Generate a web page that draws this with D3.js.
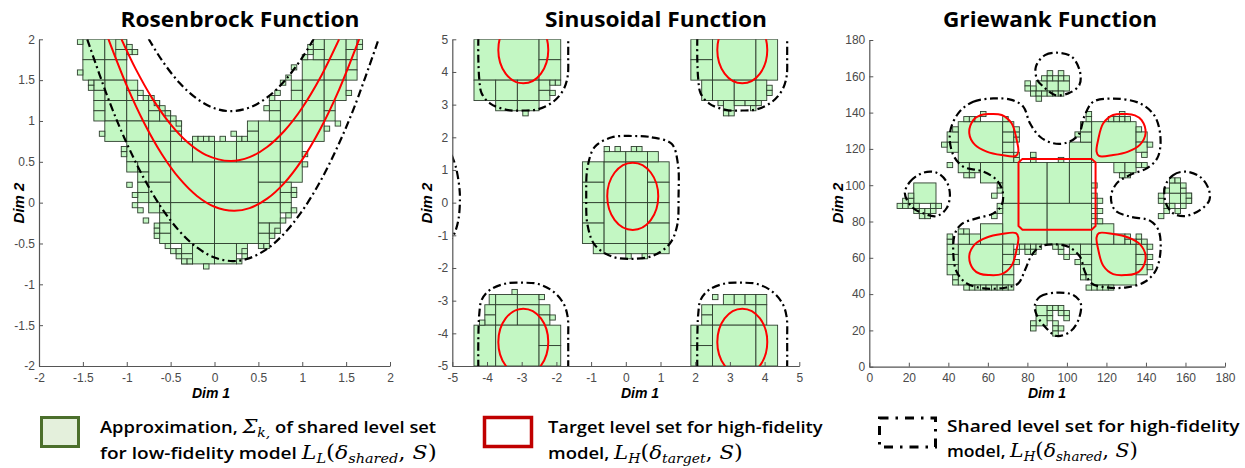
<!DOCTYPE html>
<html><head><meta charset="utf-8">
<script src="https://cdn.jsdelivr.net/npm/d3@7/dist/d3.min.js"></script>
<style>
html,body{margin:0;padding:0;background:#fff;}
svg{display:block}
</style></head><body>
<svg id="chart" width="1245" height="468"></svg>
<script>
// ================= DATA =================
const titles = ["Rosenbrock Function", "Sinusoidal Function", "Griewank Function"];
const rosenTicks = [-2, -1.5, -1, -0.5, 0, 0.5, 1, 1.5, 2];
const sinTicks = [-5, -4, -3, -2, -1, 0, 1, 2, 3, 4, 5];
const grieTicks = [0, 20, 40, 60, 80, 100, 120, 140, 160, 180];

// ---- Rosenbrock: approximation cells ----
const rosenCellsBig = [[-0.5,0,0,0.5],[0,0,0.5,0.5],[-0.5,-0.5,0,0],[0,-0.5,0.5,0]];
const rosenCells25 = [
 [-1.5,1.75],[-1.25,1.75],[1.25,1.75],
 [-1.5,1.5],[-1.25,1.5],[1.0,1.5],[1.25,1.5],
 [-1.25,1.25],[1.0,1.25],[1.25,1.25],
 [-1.25,1.0],[-1.0,1.0],[0.75,1.0],[1.0,1.0],
 [-1.25,0.75],[-1.0,0.75],[-0.75,0.75],[0.5,0.75],[0.75,0.75],[1.0,0.75],
 [-1.0,0.5],[-0.75,0.5],[-0.5,0.5],[-0.25,0.5],[0,0.5],[0.25,0.5],[0.5,0.5],[0.75,0.5],
 [-0.75,0.25],[0.5,0.25],[0.75,0.25],
 [-0.75,0],[0.5,0],
 [0.5,-0.25],
 [-0.25,-0.75],[0,-0.75]
];
const rosenCells125 = [
 [-1.125,1.875],[-1.125,1.75],
 [1.125,1.875],[1.125,1.75],[1.5,1.875],[1.5,1.75],[1.5,1.625],[1.5,1.5],
 [-1.375,1.375],[-1.375,1.25],[-1.0,1.375],[-1.0,1.25],
 [0.875,1.375],[0.875,1.25],
 [-1.375,1.125],[-1.375,1.0],[-0.75,1.125],[-0.75,1.0],[-0.625,1.0],
 [0.625,1.125],[0.625,1.0],[1.25,1.125],[1.25,1.0],
 [-0.5,0.875],[-0.5,0.75],[0.375,0.875],[0.375,0.75],
 [-1.0,0.375],[-0.875,0.375],[-0.875,0.25],
 [-0.875,0.125],[-0.875,0],[0.75,0.125],[0.75,0],
 [-0.75,-0.125],[-0.625,-0.125],[-0.625,-0.25],[0.75,-0.125],
 [-0.625,-0.375],[-0.625,-0.5],[0.5,-0.375],[0.5,-0.5],[0.625,-0.375],
 [-0.375,-0.625],[-0.375,-0.75],[0.25,-0.625]
];
const rosenCells0625 = [
 [-1.5625,1.9375],[-1.5625,1.5625],[-1.4375,1.4375],[-1.4375,1.375],[-1.3125,0.8125],
 [-1.0,1.875],[-1.0,1.8125],[-0.9375,1.8125],
 [-0.875,1.3125],[-0.8125,1.25],[-0.75,1.25],[-0.6875,1.1875],[-0.625,1.125],[-0.5625,1.0625],[-0.5,1.0],[-0.4375,0.9375],
 [-0.25,0.75],[-0.1875,0.75],[-0.125,0.75],[-0.0625,0.75],[0.0625,0.75],[0.1875,0.8125],[0.25,0.75],[0.3125,0.75],
 [0.5625,1.125],[0.625,1.25],[0.6875,1.3125],[0.75,1.4375],[0.8125,1.5],[0.875,1.625],[1.0,1.75],[1.0625,1.8125],[1.0625,1.875],
 [1.625,1.9375],[1.625,1.875],[1.5,1.3125],[1.375,0.9375],[1.25,0.875],
 [1.0,0.5625],[1.0,0.4375],[0.875,0.125],[0.875,0.0625],[0.875,-0.125],[0.8125,-0.1875],[0.75,-0.25],[0.6875,-0.375],[0.625,-0.4375],[0.5,-0.5625],[0.5625,-0.5625],
 [-1.0625,0.5625],[-1.0625,0.625],[-1.0,0.1875],[-0.9375,0.0625],[-0.9375,-0.0625],[-0.875,-0.125],[-0.8125,-0.25],[-0.6875,-0.3125],[-0.6875,-0.375],[-0.6875,-0.4375],[-0.5625,-0.5625],[-0.5,-0.625],[-0.4375,-0.6875],[-0.4375,-0.625],[-0.375,-0.75],
 [-0.125,-0.8125],[0.25,-0.75],[0.3125,-0.6875],[0.3125,-0.625],[-0.3125,-0.75]
];
// ---- Rosenbrock: level-set curves ----
const rosenRedUpper = [[-1.06,2.0],[-0.9,1.641],[-0.7,1.261],[-0.5,0.958],[-0.3,0.733],[-0.1,0.586],[0.18,0.51],[0.4,0.557],[0.6,0.681],[0.8,0.883],[1.0,1.162],[1.2,1.519],[1.42,2.0]];
const rosenRedLower = [[-1.21,2.006],[-1.0,1.433],[-0.8,0.972],[-0.6,0.593],[-0.4,0.296],[-0.2,0.082],[0,-0.05],[0.22,-0.1],[0.4,-0.067],[0.6,0.049],[0.8,0.246],[1.0,0.527],[1.2,0.889],[1.4,1.334],[1.65,2.006]];
const rosenBlackUpper = [[-0.75,2.004],[-0.6,1.744],[-0.4,1.468],[-0.2,1.272],[0,1.156],[0.19,1.12],[0.4,1.164],[0.6,1.288],[0.8,1.492],[1.0,1.776],[1.13,2.004]];
const rosenBlackLower = [[-1.45,2.0],[-1.2,1.243],[-1.0,0.727],[-0.8,0.29],[-0.6,-0.069],[-0.4,-0.348],[-0.2,-0.549],[0,-0.672],[0.21,-0.715],[0.4,-0.679],[0.6,-0.565],[0.8,-0.372],[1.0,-0.1],[1.2,0.25],[1.4,0.68],[1.6,1.188],[1.87,2.0]];

// ---- Sinusoidal: approximation cells [x0,y0,x1,y1] ----
const sinCells = [
 [-4.375,3.75,-2.5,5],[-2.5,4.375,-1.875,5],[-2.5,3.75,-1.875,4.375],
 [-4.375,3.125,-3.75,3.75],[-3.75,3.125,-3.125,3.75],[-3.125,3.125,-2.5,3.75],
 [-2.5,3.4375,-2.1875,3.75],[-2.5,3.125,-2.1875,3.4375],
 [-3.75,2.8125,-3.125,3.125],[-3.125,2.8125,-2.5,3.125],
 [1.875,4.375,2.5,5],[1.875,3.75,2.5,4.375],[2.5,3.75,3.75,5],[3.75,3.75,4.375,5],
 [2.1875,3.125,2.5,3.75],[2.5,3.125,3.125,3.75],[3.125,3.125,3.75,3.75],[3.75,3.125,4.0625,3.75],
 [2.8125,2.8125,3.125,3.125],[3.125,2.96875,3.4375,3.125],[3.4375,2.96875,3.75,3.125],[3.75,2.96875,3.90625,3.125],
 [-1.25,0.625,-0.625,1.25],[-1.25,0,-0.625,0.625],[-1.25,-0.625,-0.625,0],[-1.25,-1.25,-0.625,-0.625],
 [-0.625,0,0,1.25],[0,0,0.625,1.25],[-0.625,-1.25,0,0],[0,-1.25,0.625,0],
 [0.625,0.625,1.25,1.25],[0.625,0,1.25,0.625],[0.625,-0.625,1.25,0],[0.625,-1.25,1.25,-0.625],
 [-0.625,1.25,0,1.5625],[0,1.25,0.625,1.5625],[0.625,1.25,0.9375,1.5625],
 [-0.9375,-1.5625,-0.625,-1.25],[-0.625,-1.5625,0,-1.25],[0,-1.5625,0.625,-1.25],[0.625,-1.5625,1.25,-1.25],
 [-3.9375,-3.125,-3.75,-2.8125],[-3.75,-3.125,-3.125,-2.8125],[-3.125,-3.125,-2.5,-2.8125],
 [-4.0625,-3.4375,-3.75,-3.125],[-4.0625,-3.75,-3.75,-3.4375],[-3.75,-3.75,-3.125,-3.125],[-3.125,-3.75,-2.5,-3.125],
 [-2.5,-3.4375,-2.1875,-3.125],[-2.5,-3.75,-2.1875,-3.4375],
 [-4.375,-5,-3.75,-3.75],[-3.75,-5,-2.5,-3.75],[-2.5,-4.375,-1.875,-3.75],[-2.5,-5,-1.875,-4.375],
 [2.8125,-3.125,3.125,-2.8125],[3.125,-3.125,3.4375,-2.8125],[3.4375,-3.125,3.75,-2.8125],[3.75,-3.125,4.0625,-2.8125],
 [2.1875,-3.4375,2.5,-3.125],[2.1875,-3.75,2.5,-3.4375],[2.5,-3.75,3.75,-3.125],[3.75,-3.75,4.0625,-3.125],
 [1.875,-4.375,2.5,-3.75],[1.875,-5,2.5,-4.375],[2.5,-5,3.75,-3.75],[3.75,-5,4.375,-3.75]
];
const sinCellsSmall = [
 [-2.1875,3.59375],[-2.03125,3.59375],[-2.1875,3.28125],[-2.96875,2.65625],
 [2.65625,2.96875],[2.8125,2.65625],[2.96875,2.65625],[3.59375,2.8125],[4.0625,3.4375],[4.0625,3.28125],
 [-0.625,1.5625],[-0.3125,1.5625],[0.15625,1.5625],[0.3125,1.5625],
 [0,-1.71875],[0.46875,-1.71875],
 [-3.28125,-2.8125],[-2.5,-2.96875],[-2.1875,-3.59375],[-4.21875,-3.75],
 [2.5,-2.96875]
];
// ---- Sinusoidal: level sets ----
const sinRedEllipses = [[-2.954,4.673,0.72,1.02],[3.357,4.673,0.72,1.02],[0.2,0.194,0.735,1.03],[-2.954,-4.265,0.72,1.02],[3.357,-4.265,0.72,1.02]];
const sinBlackCentre = [[0.19,2.04],[0.75,2.0],[1.32,1.8],[1.5,1.2],[1.52,0.2],[1.48,-0.7],[1.27,-1.25],[0.8,-1.62],[0.19,-1.72],[-0.4,-1.65],[-0.89,-1.3],[-1.1,-0.7],[-1.14,0.2],[-1.1,1.1],[-0.89,1.71],[-0.4,2.0]];
const sinBlackTL = [[-4.25,5.05],[-4.25,4.4],[-4.22,3.75],[-4.155,3.35],[-3.915,3.04],[-3.434,2.84],[-2.95,2.82],[-2.52,2.86],[-2.09,3.09],[-1.8,3.45],[-1.676,3.86],[-1.66,4.5],[-1.66,5.05]];
const sinBlackTR = [[2.06,5.05],[2.06,4.4],[2.09,3.75],[2.155,3.35],[2.395,3.04],[2.876,2.84],[3.36,2.82],[3.79,2.86],[4.22,3.09],[4.51,3.45],[4.634,3.86],[4.65,4.5],[4.65,5.05]];
const sinBlackBL = [[-4.25,-5.05],[-4.25,-4.2],[-4.22,-3.38],[-4.155,-2.98],[-3.915,-2.67],[-3.434,-2.47],[-2.95,-2.45],[-2.52,-2.49],[-2.09,-2.72],[-1.8,-3.08],[-1.676,-3.49],[-1.66,-4.2],[-1.66,-5.05]];
const sinBlackBR = [[2.06,-5.05],[2.06,-4.2],[2.09,-3.38],[2.155,-2.98],[2.395,-2.67],[2.876,-2.47],[3.36,-2.45],[3.79,-2.49],[4.22,-2.72],[4.51,-3.08],[4.634,-3.49],[4.65,-4.2],[4.65,-5.05]];
const sinBlackEdge = [[-5.02,1.46],[-4.9,1.1],[-4.8,0.5],[-4.78,0.1],[-4.82,-0.5],[-4.92,-0.9],[-5.02,-1.1]];

// ---- Griewank: approximation cells ----
const grieCellsBig = [
 [67.5,90,90,112.5],[90,90,101.25,112.5],[101.25,90,112.5,112.5],[101.25,112.5,112.5,123.75],
 [67.5,67.5,90,90],[90,67.5,112.5,90],
 [45,112.5,67.5,135],[112.5,112.5,135,135],[45,45,67.5,67.5],[112.5,45,135,67.5],
 [56.25,101.25,67.5,112.5],[56.25,67.5,67.5,78.75],[112.5,67.5,123.75,78.75],
 [22.5,90,33.75,101.25]
];
const grieCellsMid = [
 [67.5,112.5],[67.5,118.125],[67.5,123.75],[67.5,129.375],[39.375,118.125],[39.375,123.75],[45,106.875],[50.625,106.875],
 [106.875,123.75],[106.875,129.375],[123.75,106.875],[129.375,106.875],[135,123.75],[135,118.125],
 [39.375,61.875],[39.375,56.25],[39.375,50.625],[50.625,67.5],[45,67.5],[67.5,61.875],[67.5,56.25],[67.5,50.625],[67.5,45],
 [135,61.875],[135,56.25],[135,50.625],[123.75,67.5],[106.875,50.625],
 [101.25,61.875],[106.875,61.875],[106.875,56.25],
 [84.375,151.875],[90,151.875],[95.625,151.875],
 [151.875,90],[151.875,95.625],[157.5,90],
 [84.375,28.125],[84.375,22.5]
];
const grieCellsSmall = [
 [39.375,109.6875],[42.1875,129.375],[36.5625,120.9375],[47.8125,135],[50.625,135],[53.4375,135],[56.25,137.8125],[67.5,135],
 [47.8125,104.0625],[50.625,104.0625],[73.125,123.75],[73.125,126.5625],[73.125,129.375],[73.125,112.5],[73.125,115.3125],
 [81.5625,112.5],[81.5625,115.3125],[95.625,112.5],
 [64.6875,98.4375],[64.6875,95.625],[61.875,92.8125],[64.6875,87.1875],[64.6875,84.375],[61.875,81.5625],
 [112.5,98.4375],[112.5,92.8125],[115.3125,90],[112.5,87.1875],[115.3125,84.375],[112.5,81.5625],[115.3125,78.75],
 [109.6875,135],[109.6875,137.8125],[104.0625,126.5625],[120.9375,135],[123.75,135],[126.5625,135],[129.375,135],[126.5625,137.8125],
 [137.8125,115.3125],[135,109.6875],[137.8125,109.6875],[126.5625,104.0625],[129.375,104.0625],[140.625,120.9375],[135,129.375],
 [39.375,67.5],[39.375,70.3125],[42.1875,47.8125],[42.1875,45],[47.8125,42.1875],[50.625,42.1875],[53.4375,42.1875],[56.25,42.1875],
 [59.0625,42.1875],[61.875,42.1875],[64.6875,42.1875],[67.5,42.1875],[70.3125,42.1875],[73.125,61.875],[75.9375,64.6875],[73.125,56.25],
 [45,73.125],[47.8125,73.125],
 [78.75,64.6875],[81.5625,64.6875],[84.375,64.6875],[81.5625,61.875],[78.75,61.875],[92.8125,64.6875],[95.625,61.875],[95.625,64.6875],[98.4375,59.0625],
 [140.625,64.6875],[140.625,59.0625],[140.625,53.4375],[135,67.5],[135,70.3125],[137.8125,67.5],[129.375,67.5],[129.375,70.3125],[132.1875,67.5],
 [109.6875,42.1875],[112.5,42.1875],[115.3125,42.1875],[118.125,42.1875],[120.9375,42.1875],[106.875,47.8125],[109.6875,47.8125],[104.0625,56.25],
 [14.0625,87.1875],[16.875,87.1875],[19.6875,87.1875],[19.6875,90],[16.875,90],[19.6875,92.8125],[22.5,87.1875],[22.5,84.375],
 [25.3125,84.375],[25.3125,81.5625],[28.125,81.5625],[28.125,84.375],[30.9375,84.375],[30.9375,87.1875],[33.75,87.1875],
 [78.75,154.6875],[78.75,151.875],[81.5625,151.875],[81.5625,149.0625],[84.375,149.0625],[84.375,146.25],[87.1875,149.0625],[90,149.0625],
 [92.8125,149.0625],[95.625,149.0625],[87.1875,157.5],[90,157.5],[90,160.3125],[95.625,157.5],[95.625,160.3125],[98.4375,157.5],[92.8125,157.5],
 [146.25,90],[146.25,92.8125],[149.0625,95.625],[149.0625,87.1875],[149.0625,84.375],[151.875,87.1875],[154.6875,84.375],[157.5,87.1875],
 [157.5,95.625],[157.5,98.4375],[160.3125,92.8125],[160.3125,90],[146.25,81.5625],[151.875,101.25],[154.6875,101.25],
 [81.5625,22.5],[81.5625,19.6875],[90,30.9375],[92.8125,30.9375],[95.625,30.9375],[98.4375,28.125],[90,28.125],[95.625,28.125],
 [90,25.3125],[92.8125,22.5],[92.8125,19.6875],[95.625,19.6875],[92.8125,16.875],[98.4375,25.3125]
];
// ---- Griewank: level sets ----
const grieRedCentre = [[77.5,114.5],[112.5,114.5],[114.5,112.5],[114.5,77.5],[112.5,75.5],[77.5,75.5],[75.5,77.5],[75.5,112.5]];
const grieRedTL = [[50.6,128.6],[52.6,135.9],[56,138.5],[60.2,139.2],[67.0,138.7],[72.0,134.1],[74.6,124.9],[75.4,118.5],[74.2,116.1],[67.0,116.6],[59.4,118.5],[53.5,122.2]];
const grieRedTR = [[139.8,128.6],[137.8,135.9],[134.4,138.5],[130.2,139.2],[123.4,138.7],[118.4,134.1],[115.8,124.9],[115.0,118.5],[116.2,116.1],[123.4,116.6],[131.0,118.5],[136.9,122.2]];
const grieRedBL = [[50.6,61.1],[52.6,53.8],[56,51.2],[60.2,50.5],[67.0,51.0],[72.0,55.6],[74.6,64.8],[75.4,71.2],[74.2,73.6],[67.0,73.1],[59.4,71.2],[53.5,67.5]];
const grieRedBR = [[139.8,61.1],[137.8,53.8],[134.4,51.2],[130.2,50.5],[123.4,51.0],[118.4,55.6],[115.8,64.8],[115.0,71.2],[116.2,73.6],[123.4,73.1],[131.0,71.2],[136.9,67.5]];
const grieBlackMain = [[45.0,139.6],[52.6,146.0],[62.8,147.8],[72.0,147.0],[77.9,143.3],[81.3,134.1],[86.4,126.7],[93.1,123.1],[99.9,123.4],[105.8,127.7],[109.1,138.7],[113.4,146.0],[123.5,147.7],[137.0,145.1],[144.6,137.8],[147.4,124.9],[145.7,114.8],[140.4,109.3],[131.9,105.6],[125.2,101.0],[122.3,93.7],[124.3,86.3],[131.9,82.7],[142.0,80.5],[146.3,75.3],[147.4,64.3],[145.1,53.3],[139.5,46.8],[130.2,43.7],[120.1,43.7],[112.5,45.9],[109.1,52.3],[106.6,60.6],[100.7,66.1],[93.1,67.4],[86.4,66.1],[82.2,61.5],[78.8,53.3],[75.4,45.9],[68.7,43.5],[57.7,43.2],[49.3,45.9],[44.2,52.3],[42.5,62.5],[43.4,73.5],[46.7,78.6],[54.3,81.7],[62.8,84.5],[67.0,89.1],[67.5,96.4],[64.4,102.9],[57.7,107.5],[47.6,110.2],[42.5,116.6],[40.8,128.6]];
const grieBlackTop = [[84.3,165.3],[88.9,171.7],[94.8,173.0],[102.4,170.8],[106.6,162.6],[106.3,155.2],[100.7,150.6],[94.0,149.7],[88.1,154.3],[85.0,158.0]];
const grieBlackLeft = [[18.0,95.5],[20.6,101.9],[27.3,106.9],[34.1,106.9],[39.1,101.9],[40.8,94.6],[39.1,87.3],[34.1,83.0],[27.3,84.5],[21.4,88.2]];
const grieBlackRight = [[149.6,99.2],[153.8,105.6],[159.7,107.5],[167.3,104.7],[171.6,98.3],[172.1,91.8],[167.3,86.3],[159.7,83.0],[153.8,84.5],[150.1,90.0]];
const grieBlackBottom = [[83.8,34.0],[86.4,38.6],[94.8,40.8],[103.2,39.5],[107.0,34.9],[105.8,25.7],[101.6,19.3],[94.8,16.9],[89.7,21.1],[84.7,28.5]];

// ---- Legend text ----
const legendLine1 = ["Approximation, ", "Target level set for high-fidelity", "Shared level set for high-fidelity"];

// ================= DRAWING =================
const svg = d3.select("#chart");
const CELL_FILL = "#c3f7c3", CELL_STROKE = "#2e3e2e";
const RED = "#ff0000";
const DASH = "8,3.5,2,3.5";

const layout = [
  {l:39, r:390, t:39.3, b:366, dom:[-2,2], ticks:rosenTicks, tx:240, tw:239, d1:211, d2:19},
  {l:452.3, r:799.3, t:39.3, b:366, dom:[-5,5], ticks:sinTicks, tx:656, tw:222, d1:640, d2:427},
  {l:869.3, r:1225, t:40, b:366.7, dom:[0,180], ticks:grieTicks, tx:1050, tw:214, d1:1047, d2:838}
];

function makePanel(i) {
  const L = layout[i];
  const xs = d3.scaleLinear().domain(L.dom).range([L.l, L.r]);
  const ys = d3.scaleLinear().domain(L.dom).range([L.b, L.t]);
  const clipId = "clip" + i;
  svg.append("clipPath").attr("id", clipId).append("rect")
    .attr("x", L.l).attr("y", L.t).attr("width", L.r - L.l).attr("height", L.b - L.t);
  const g = svg.append("g");
  const plot = g.append("g").attr("clip-path", `url(#${clipId})`);
  return {L, xs, ys, g, plot};
}

function drawCells(P, rects) {
  P.plot.append("g").selectAll("rect").data(rects).join("rect")
    .attr("x", d => P.xs(d[0])).attr("y", d => P.ys(d[3]))
    .attr("width", d => P.xs(d[2]) - P.xs(d[0]))
    .attr("height", d => P.ys(d[1]) - P.ys(d[3]))
    .attr("fill", CELL_FILL).attr("stroke", CELL_STROKE).attr("stroke-width", 0.9);
}
const sq = (arr, s) => arr.map(d => [d[0], d[1], d[0] + s, d[1] + s]);

function drawCurve(P, pts, closed, color, width, dash) {
  const line = d3.line().x(d => P.xs(d[0])).y(d => P.ys(d[1]))
    .curve(closed ? d3.curveCatmullRomClosed.alpha(0.5) : d3.curveCatmullRom.alpha(0.5));
  const p = P.plot.append("path").attr("d", line(pts)).attr("fill", "none")
    .attr("stroke", color).attr("stroke-width", width)
    .attr("stroke-linejoin", "round");
  if (dash) p.attr("stroke-dasharray", dash);
  return p;
}
function drawPoly(P, pts, color, width) {
  const line = d3.line().x(d => P.xs(d[0])).y(d => P.ys(d[1])).curve(d3.curveLinearClosed);
  P.plot.append("path").attr("d", line(pts)).attr("fill", "none")
    .attr("stroke", color).attr("stroke-width", width).attr("stroke-linejoin", "round");
}

function drawAxes(P, i) {
  const L = P.L;
  const fmt = d => String(d);
  const ax = P.g.append("g").attr("transform", `translate(0,${L.b})`)
    .call(d3.axisBottom(P.xs).tickValues(L.ticks).tickFormat(fmt).tickSizeInner(-4).tickSizeOuter(0).tickPadding(7));
  const ay = P.g.append("g").attr("transform", `translate(${L.l},0)`)
    .call(d3.axisLeft(P.ys).tickValues(L.ticks).tickFormat(fmt).tickSizeInner(-4).tickSizeOuter(0).tickPadding(4));
  [ax, ay].forEach(a => {
    a.select(".domain").attr("stroke", "#555").attr("stroke-width", 1.2);
    a.selectAll(".tick line").attr("stroke", "#555");
    a.selectAll(".tick text").attr("fill", "#4a4a4a")
      .style("font-family", "'Liberation Sans', Arial, sans-serif").style("font-size", "12px");
  });
  svg.append("text").attr("x", L.tx).attr("y", 27).attr("text-anchor", "middle")
    .style("font-family", "'Open Sans', Lato, sans-serif").style("font-weight", 700).style("font-size", "21px")
    .attr("textLength", L.tw).attr("lengthAdjust", "spacingAndGlyphs")
    .attr("fill", "#000").text(titles[i]);
  svg.append("text").attr("x", L.d1).attr("y", 398).attr("text-anchor", "middle")
    .style("font-family", "'Liberation Sans', Arial, sans-serif").style("font-weight", 700).style("font-style", "italic").style("font-size", "14px")
    .text("Dim 1");
  svg.append("text").attr("transform", `translate(${L.d2 + 5},203) rotate(-90)`).attr("text-anchor", "middle")
    .style("font-family", "'Liberation Sans', Arial, sans-serif").style("font-weight", 700).style("font-style", "italic").style("font-size", "15px")
    .text("Dim 2");
}

{
  const P = makePanel(0);
  drawCells(P, rosenCellsBig);
  drawCells(P, sq(rosenCells25, 0.25));
  drawCells(P, sq(rosenCells125, 0.125));
  drawCells(P, sq(rosenCells0625, 0.0625));
  drawCurve(P, rosenRedUpper, false, RED, 2);
  drawCurve(P, rosenRedLower, false, RED, 2);
  drawCurve(P, rosenBlackUpper, false, "#000", 2.2, DASH);
  drawCurve(P, rosenBlackLower, false, "#000", 2.2, DASH);
  drawAxes(P, 0);
}
{
  const P = makePanel(1);
  drawCells(P, sinCells);
  drawCells(P, sq(sinCellsSmall, 0.15625));
  P.plot.append("g").selectAll("ellipse").data(sinRedEllipses).join("ellipse")
    .attr("cx", d => P.xs(d[0])).attr("cy", d => P.ys(d[1]))
    .attr("rx", d => P.xs(d[0] + d[2]) - P.xs(d[0]))
    .attr("ry", d => P.ys(d[1]) - P.ys(d[1] + d[3]))
    .attr("fill", "none").attr("stroke", RED).attr("stroke-width", 2);
  drawCurve(P, sinBlackCentre, true, "#000", 2.2, DASH);
  [sinBlackTL, sinBlackTR, sinBlackBL, sinBlackBR, sinBlackEdge].forEach(c => drawCurve(P, c, false, "#000", 2.2, DASH));
  drawAxes(P, 1);
}
{
  const P = makePanel(2);
  drawCells(P, grieCellsBig);
  drawCells(P, sq(grieCellsMid, 5.625));
  drawCells(P, sq(grieCellsSmall, 2.8125));
  drawPoly(P, grieRedCentre, RED, 2);
  [grieRedTL, grieRedTR, grieRedBL, grieRedBR].forEach(c => drawCurve(P, c, true, RED, 2));
  [grieBlackMain, grieBlackTop, grieBlackLeft, grieBlackRight, grieBlackBottom].forEach(c => drawCurve(P, c, true, "#000", 2.2, DASH));
  drawAxes(P, 2);
}

// ---- Legend ----
const SANS = "'Open Sans', Lato, sans-serif";
const MATH = "'DejaVu Serif', serif";
function richText(x, y, parts, rightEdge) {
  const t = svg.append("text").attr("x", x).attr("y", y)
    .style("font-family", SANS).style("font-weight", 600).style("font-size", "16.5px").attr("fill", "#000");
  let shift = 0;
  parts.forEach(p => {
    const ts = t.append("tspan").text(p.t);
    const target = p.sub ? 4 : 0;
    if (target !== shift) { ts.attr("dy", target - shift); shift = target; }
    if (p.m) ts.style("font-family", MATH).style("font-style", "italic").style("font-weight", 400).style("font-size", "19px");
    if (p.u) ts.style("font-family", MATH).style("font-style", "normal").style("font-weight", 400).style("font-size", "20px");
    if (p.sub) ts.style("font-family", MATH).style("font-style", "italic").style("font-weight", 400).style("font-size", "12.5px");
  });
  const bb = t.node().getBBox();
  const k = (rightEdge - x) / bb.width;
  t.attr("transform", `translate(${x},0) scale(${k},1) translate(${-x},0)`);
  return t;
}
svg.append("rect").attr("x", 41.5).attr("y", 417.5).attr("width", 37).attr("height", 29)
  .attr("fill", "#e4f0dc").attr("stroke", "#4b6f2b").attr("stroke-width", 3);
richText(100, 433, [{t: legendLine1[0]}, {t: "Σ", m: 1}, {t: "k,", sub: 1}, {t: " of shared level set"}], 437);
richText(100, 459, [{t: "for low-fidelity model "}, {t: "L", m: 1}, {t: "L", sub: 1}, {t: "(", u: 1}, {t: "δ", m: 1}, {t: "shared", sub: 1}, {t: ",", u: 1}, {t: " S", m: 1}, {t: ")", u: 1}], 437);
svg.append("rect").attr("x", 484.5).attr("y", 417.5).attr("width", 47).attr("height", 29)
  .attr("fill", "#fff").attr("stroke", "#c00000").attr("stroke-width", 3.5);
richText(548, 433, [{t: legendLine1[1]}], 823);
richText(548, 459, [{t: "model, "}, {t: "L", m: 1}, {t: "H", sub: 1}, {t: "(", u: 1}, {t: "δ", m: 1}, {t: "target", sub: 1}, {t: ",", u: 1}, {t: " S", m: 1}, {t: ")", u: 1}], 743);
svg.append("rect").attr("x", 879.5).attr("y", 418).attr("width", 56).attr("height", 29)
  .attr("fill", "none").attr("stroke", "#000").attr("stroke-width", 3).attr("stroke-dasharray", "9,7,2.5,7");
richText(947, 432, [{t: legendLine1[2]}], 1240);
richText(947, 457, [{t: "model, "}, {t: "L", m: 1}, {t: "H", sub: 1}, {t: "(", u: 1}, {t: "δ", m: 1}, {t: "shared", sub: 1}, {t: ",", u: 1}, {t: " S", m: 1}, {t: ")", u: 1}], 1138);
</script>
</body></html>
